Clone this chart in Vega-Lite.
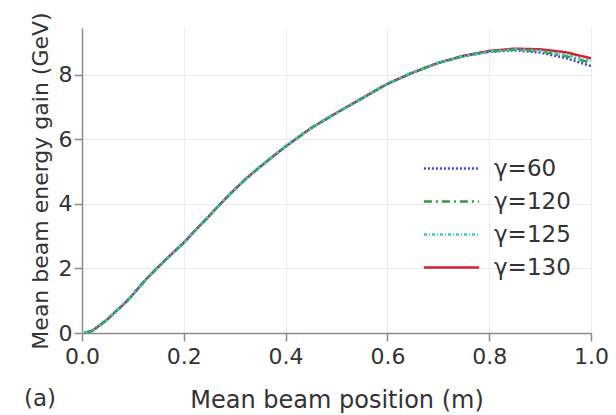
{
  "$schema": "https://vega.github.io/schema/vega-lite/v6.json",
  "width": 509,
  "height": 305,
  "autosize": {"type": "none"},
  "padding": {"left": 82, "top": 28, "right": 25, "bottom": 82},
  "background": "white",
  "title": {"text": "(a)", "orient": "bottom", "anchor": "start", "frame": "bounds", "offset": -24, "dx": -5, "fontSize": 23, "fontWeight": "normal", "color": "#333", "font": "DejaVu Sans"},
  "config": {
    "font": "DejaVu Sans",
    "view": {"stroke": null},
    "axis": {
      "domainColor": "#8a8a8a", "domainWidth": 1.5,
      "tickColor": "#8a8a8a", "tickWidth": 1.5, "tickSize": 8,
      "gridColor": "#ebebf5", "gridWidth": 1,
      "labelFontSize": 22, "labelColor": "#333", "labelPadding": 2, "labelFlush": false,
      "titleFontSize": 24, "titleFontWeight": "normal", "titleColor": "#333"
    }
  },
  "data": {"values": [
    {"x":0.005,"y":0,"g":"γ=130"},{"x":0.02,"y":0.07,"g":"γ=130"},{"x":0.035,"y":0.24,"g":"γ=130"},{"x":0.05,"y":0.42,"g":"γ=130"},{"x":0.065,"y":0.65,"g":"γ=130"},{"x":0.08,"y":0.86,"g":"γ=130"},{"x":0.095,"y":1.1,"g":"γ=130"},{"x":0.11,"y":1.38,"g":"γ=130"},{"x":0.125,"y":1.65,"g":"γ=130"},{"x":0.15,"y":2.05,"g":"γ=130"},{"x":0.175,"y":2.43,"g":"γ=130"},{"x":0.2,"y":2.8,"g":"γ=130"},{"x":0.225,"y":3.22,"g":"γ=130"},{"x":0.25,"y":3.63,"g":"γ=130"},{"x":0.27,"y":3.97,"g":"γ=130"},{"x":0.3,"y":4.45,"g":"γ=130"},{"x":0.325,"y":4.82,"g":"γ=130"},{"x":0.35,"y":5.15,"g":"γ=130"},{"x":0.375,"y":5.47,"g":"γ=130"},{"x":0.4,"y":5.78,"g":"γ=130"},{"x":0.45,"y":6.35,"g":"γ=130"},{"x":0.5,"y":6.82,"g":"γ=130"},{"x":0.55,"y":7.27,"g":"γ=130"},{"x":0.6,"y":7.72,"g":"γ=130"},{"x":0.65,"y":8.07,"g":"γ=130"},{"x":0.7,"y":8.37,"g":"γ=130"},{"x":0.75,"y":8.59,"g":"γ=130"},{"x":0.8,"y":8.74,"g":"γ=130"},{"x":0.85,"y":8.81,"g":"γ=130"},{"x":0.9,"y":8.79,"g":"γ=130"},{"x":0.95,"y":8.7,"g":"γ=130"},{"x":1.0,"y":8.51,"g":"γ=130"},
    {"x":0.005,"y":0,"g":"γ=60"},{"x":0.02,"y":0.07,"g":"γ=60"},{"x":0.035,"y":0.24,"g":"γ=60"},{"x":0.05,"y":0.42,"g":"γ=60"},{"x":0.065,"y":0.65,"g":"γ=60"},{"x":0.08,"y":0.86,"g":"γ=60"},{"x":0.095,"y":1.1,"g":"γ=60"},{"x":0.11,"y":1.38,"g":"γ=60"},{"x":0.125,"y":1.65,"g":"γ=60"},{"x":0.15,"y":2.05,"g":"γ=60"},{"x":0.175,"y":2.43,"g":"γ=60"},{"x":0.2,"y":2.8,"g":"γ=60"},{"x":0.225,"y":3.22,"g":"γ=60"},{"x":0.25,"y":3.63,"g":"γ=60"},{"x":0.27,"y":3.97,"g":"γ=60"},{"x":0.3,"y":4.45,"g":"γ=60"},{"x":0.325,"y":4.82,"g":"γ=60"},{"x":0.35,"y":5.15,"g":"γ=60"},{"x":0.375,"y":5.47,"g":"γ=60"},{"x":0.4,"y":5.78,"g":"γ=60"},{"x":0.45,"y":6.35,"g":"γ=60"},{"x":0.5,"y":6.82,"g":"γ=60"},{"x":0.55,"y":7.27,"g":"γ=60"},{"x":0.6,"y":7.72,"g":"γ=60"},{"x":0.65,"y":8.07,"g":"γ=60"},{"x":0.7,"y":8.37,"g":"γ=60"},{"x":0.75,"y":8.58,"g":"γ=60"},{"x":0.8,"y":8.71,"g":"γ=60"},{"x":0.85,"y":8.76,"g":"γ=60"},{"x":0.9,"y":8.69,"g":"γ=60"},{"x":0.95,"y":8.52,"g":"γ=60"},{"x":1.0,"y":8.27,"g":"γ=60"},
    {"x":0.005,"y":0,"g":"γ=120"},{"x":0.02,"y":0.07,"g":"γ=120"},{"x":0.035,"y":0.24,"g":"γ=120"},{"x":0.05,"y":0.42,"g":"γ=120"},{"x":0.065,"y":0.65,"g":"γ=120"},{"x":0.08,"y":0.86,"g":"γ=120"},{"x":0.095,"y":1.1,"g":"γ=120"},{"x":0.11,"y":1.38,"g":"γ=120"},{"x":0.125,"y":1.65,"g":"γ=120"},{"x":0.15,"y":2.05,"g":"γ=120"},{"x":0.175,"y":2.43,"g":"γ=120"},{"x":0.2,"y":2.8,"g":"γ=120"},{"x":0.225,"y":3.22,"g":"γ=120"},{"x":0.25,"y":3.63,"g":"γ=120"},{"x":0.27,"y":3.97,"g":"γ=120"},{"x":0.3,"y":4.45,"g":"γ=120"},{"x":0.325,"y":4.82,"g":"γ=120"},{"x":0.35,"y":5.15,"g":"γ=120"},{"x":0.375,"y":5.47,"g":"γ=120"},{"x":0.4,"y":5.78,"g":"γ=120"},{"x":0.45,"y":6.35,"g":"γ=120"},{"x":0.5,"y":6.82,"g":"γ=120"},{"x":0.55,"y":7.27,"g":"γ=120"},{"x":0.6,"y":7.72,"g":"γ=120"},{"x":0.65,"y":8.07,"g":"γ=120"},{"x":0.7,"y":8.37,"g":"γ=120"},{"x":0.75,"y":8.58,"g":"γ=120"},{"x":0.8,"y":8.72,"g":"γ=120"},{"x":0.85,"y":8.78,"g":"γ=120"},{"x":0.9,"y":8.73,"g":"γ=120"},{"x":0.95,"y":8.58,"g":"γ=120"},{"x":1.0,"y":8.37,"g":"γ=120"},
    {"x":0.005,"y":0,"g":"γ=125"},{"x":0.02,"y":0.07,"g":"γ=125"},{"x":0.035,"y":0.24,"g":"γ=125"},{"x":0.05,"y":0.42,"g":"γ=125"},{"x":0.065,"y":0.65,"g":"γ=125"},{"x":0.08,"y":0.86,"g":"γ=125"},{"x":0.095,"y":1.1,"g":"γ=125"},{"x":0.11,"y":1.38,"g":"γ=125"},{"x":0.125,"y":1.65,"g":"γ=125"},{"x":0.15,"y":2.05,"g":"γ=125"},{"x":0.175,"y":2.43,"g":"γ=125"},{"x":0.2,"y":2.8,"g":"γ=125"},{"x":0.225,"y":3.22,"g":"γ=125"},{"x":0.25,"y":3.63,"g":"γ=125"},{"x":0.27,"y":3.97,"g":"γ=125"},{"x":0.3,"y":4.45,"g":"γ=125"},{"x":0.325,"y":4.82,"g":"γ=125"},{"x":0.35,"y":5.15,"g":"γ=125"},{"x":0.375,"y":5.47,"g":"γ=125"},{"x":0.4,"y":5.78,"g":"γ=125"},{"x":0.45,"y":6.35,"g":"γ=125"},{"x":0.5,"y":6.82,"g":"γ=125"},{"x":0.55,"y":7.27,"g":"γ=125"},{"x":0.6,"y":7.72,"g":"γ=125"},{"x":0.65,"y":8.07,"g":"γ=125"},{"x":0.7,"y":8.37,"g":"γ=125"},{"x":0.75,"y":8.58,"g":"γ=125"},{"x":0.8,"y":8.72,"g":"γ=125"},{"x":0.85,"y":8.79,"g":"γ=125"},{"x":0.9,"y":8.75,"g":"γ=125"},{"x":0.95,"y":8.62,"g":"γ=125"},{"x":1.0,"y":8.42,"g":"γ=125"}
  ]},
  "mark": {"type": "line", "strokeWidth": 2.5, "clip": false},
  "encoding": {
    "x": {"field": "x", "type": "quantitative", "scale": {"domain": [0, 1], "nice": false, "zero": false},
          "axis": {"values": [0, 0.2, 0.4, 0.6, 0.8, 1.0], "format": ".1f", "title": "Mean beam position (m)", "titlePadding": 21, "labelPadding": 5}},
    "y": {"field": "y", "type": "quantitative", "scale": {"domain": [0, 9.45], "nice": false},
          "axis": {"values": [0, 2, 4, 6, 8], "title": "Mean beam energy gain (GeV)", "titlePadding": 6, "titleFontSize": 22}},
    "color": {"field": "g", "type": "nominal",
              "scale": {"domain": ["γ=60", "γ=120", "γ=125", "γ=130"], "range": ["#3b46c8", "#2f9a3a", "#3cc4c0", "#d5212d"]},
              "legend": {"title": null, "orient": "none", "legendX": 356, "legendY": 127, "symbolType": "M-2.3,0H2.3", "symbolSize": 576, "symbolStrokeWidth": 2.5, "labelFontSize": 23, "labelColor": "#333", "labelOffset": 29, "rowPadding": 7}},
    "strokeDash": {"field": "g", "type": "nominal",
              "scale": {"domain": ["γ=60", "γ=120", "γ=125", "γ=130"], "range": [[2, 2], [8, 4, 2, 4], [3, 2, 1, 2], [1, 0]]},
              "legend": null}
  }
}
